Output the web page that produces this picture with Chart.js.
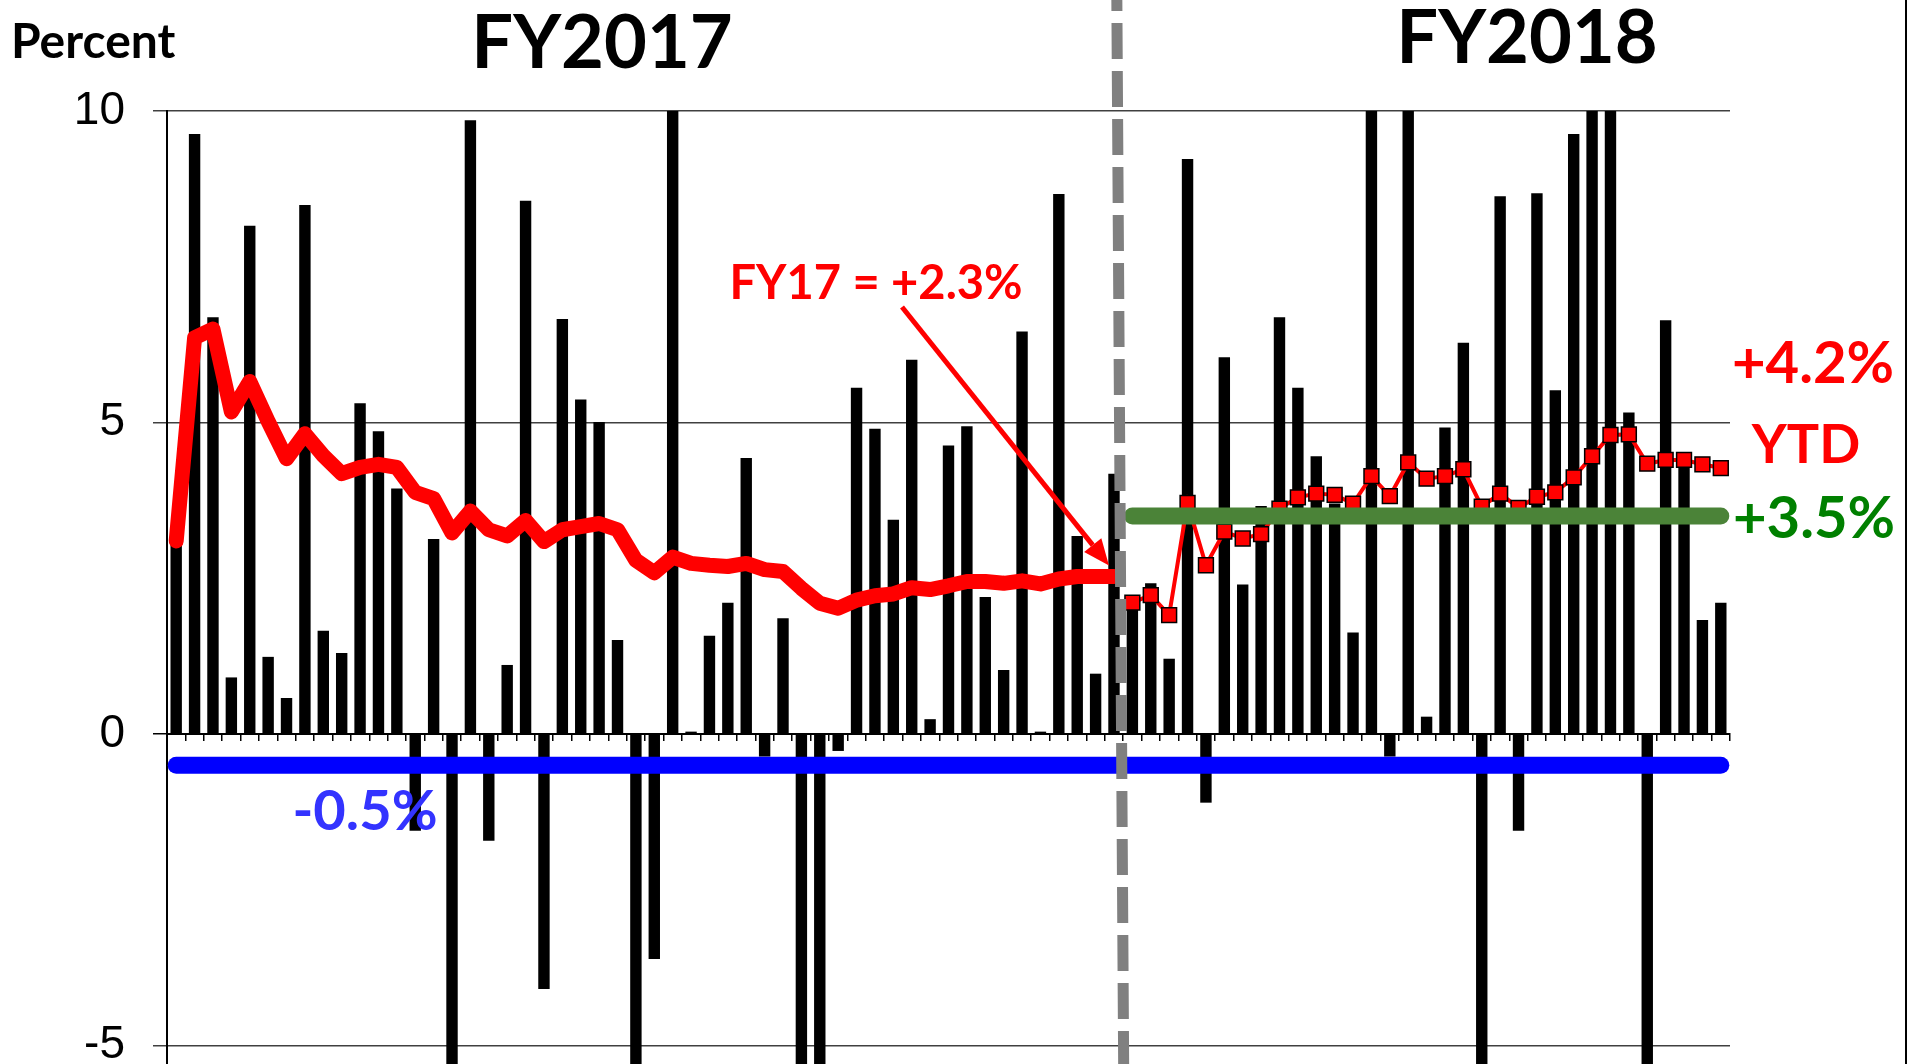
<!DOCTYPE html>
<html>
<head>
<meta charset="utf-8">
<script src="https://cdn.jsdelivr.net/npm/chart.js@4.4.1/dist/chart.umd.min.js"></script>
<style>
  html, body { margin: 0; padding: 0; background: #fff; overflow: hidden; }
  #wrap { width: 1916px; height: 1064px; overflow: hidden; position: relative; }
  canvas { display: block; }
</style>
</head>
<body>
<div id="wrap"><canvas id="chart" width="1916" height="1120"></canvas></div>
<script>
// weeks of each fiscal year (labels are not shown)
const fy17Weeks = Array.from({ length: 52 }, (_, i) => 'FY17 W' + (i + 1));
const fy18Weeks = Array.from({ length: 33 }, (_, i) => 'FY18 W' + (i + 1));
const weeks = fy17Weeks.concat(fy18Weeks);

// weekly change, percent (bars); bars past the axis ends are cut off
const weeklyChange = [
  3.1, 9.63, 6.69, 0.91, 8.16, 1.24, 0.58, 8.49, 1.66, 1.30,
  5.31, 4.86, 3.94, -1.55, 3.13, -6, 9.85, -1.71, 1.11, 8.56,
  -4.09, 6.66, 5.37, 5.01, 1.51, -6, -3.61, 11, 0.04, 1.58,
  2.11, 4.43, -0.36, 1.86, -6, -6, -0.27, 5.56, 4.90, 3.44,
  6.01, 0.24, 4.63, 4.94, 2.2, 1.03, 6.46, 0.04, 8.67, 3.18,
  0.97, 4.18,
  2.1, 2.42, 1.21, 9.23, -1.10, 6.05, 2.40, 3.66, 6.69, 5.56,
  4.46, 3.7, 1.63, 11, -0.36, 11, 0.28, 4.92, 6.28, -6,
  8.63, -1.55, 8.68, 5.52, 9.63, 11, 11, 5.16, -6, 6.64,
  4.3, 1.83, 2.11
];

// year-to-date change, percent
const fy17Ytd = [
  3.1, 6.36, 6.5, 5.17, 5.66, 5.02, 4.42, 4.82, 4.47, 4.18,
  4.28, 4.33, 4.28, 3.88, 3.78, 3.23, 3.58, 3.28, 3.18, 3.43,
  3.09, 3.28, 3.33, 3.38, 3.28, 2.79, 2.59, 2.84, 2.74, 2.71,
  2.69, 2.74, 2.64, 2.61, 2.34, 2.10, 2.02, 2.15, 2.22, 2.25,
  2.35, 2.32, 2.38, 2.45, 2.45, 2.42, 2.46, 2.41, 2.49, 2.53,
  2.53, 2.53
];
const fy18Ytd = [
  2.11, 2.23, 1.91, 3.71, 2.71, 3.25, 3.14, 3.21, 3.62, 3.80,
  3.86, 3.84, 3.70, 4.14, 3.82, 4.36, 4.10, 4.14, 4.25, 3.65,
  3.86, 3.63, 3.81, 3.88, 4.12, 4.46, 4.80, 4.81, 4.34, 4.40,
  4.40, 4.33, 4.27
];

// reference levels
const fy18Level = 3.5;
const longLevel = -0.5;

const yTicks = [10, 5, 0, -5];

const BOLD = 'Lato, "Open Sans", sans-serif';

function label(ctx, s, x, y, size, color, align) {
  ctx.font = 'bold ' + size + 'px ' + BOLD;
  ctx.fillStyle = color;
  ctx.textAlign = align || 'center';
  ctx.textBaseline = 'alphabetic';
  ctx.fillText(s, x, y);
}

const notes = {
  id: 'notes',
  afterDraw(chart) {
    const ctx = chart.ctx;
    const x = chart.scales.x, y = chart.scales.y;
    ctx.save();

    label(ctx, 'Percent', 11, 58, 48, '#000', 'left');
    label(ctx, 'FY2017', 602, 68, 74, '#000');
    label(ctx, 'FY2018', 1527, 63, 74, '#000');
    label(ctx, 'FY17 = +2.3%', 876, 299, 47, '#ff0000');
    label(ctx, '+4.2%', 1813, 383, 58, '#ff0000');
    label(ctx, 'YTD', 1806, 463, 54, '#ff0000');
    label(ctx, '+3.5%', 1814, 538, 58, '#008000');
    label(ctx, '-0.5%', 365, 830, 56, '#3333ff');

    // arrow to the end of the FY17 line
    const tipX = x.getPixelForValue(51) - 5;
    const tipY = y.getPixelForValue(fy17Ytd[51]) - 11;
    const fromX = 902, fromY = 307;
    const ang = Math.atan2(tipY - fromY, tipX - fromX);
    const head = 26, half = 11;
    ctx.strokeStyle = '#ff0000';
    ctx.lineWidth = 5;
    ctx.beginPath();
    ctx.moveTo(fromX, fromY);
    ctx.lineTo(tipX - Math.cos(ang) * head, tipY - Math.sin(ang) * head);
    ctx.stroke();
    ctx.fillStyle = '#ff0000';
    ctx.beginPath();
    ctx.moveTo(tipX, tipY);
    ctx.lineTo(tipX - Math.cos(ang) * head - Math.sin(ang) * half, tipY - Math.sin(ang) * head + Math.cos(ang) * half);
    ctx.lineTo(tipX - Math.cos(ang) * head + Math.sin(ang) * half, tipY - Math.sin(ang) * head - Math.cos(ang) * half);
    ctx.closePath();
    ctx.fill();

    // frame line at the right
    ctx.strokeStyle = '#000';
    ctx.lineWidth = 2;
    ctx.setLineDash([]);
    ctx.beginPath();
    ctx.moveTo(1906, 0);
    ctx.lineTo(1906, chart.height);
    ctx.stroke();

    // dashed divider between the fiscal years
    const split = (x.getPixelForValue(51) + x.getPixelForValue(52)) / 2;
    ctx.strokeStyle = '#808080';
    ctx.lineWidth = 11;
    ctx.setLineDash([36, 12]);
    ctx.beginPath();
    ctx.moveTo(split - 6.5, -25);
    ctx.lineTo(split + 0.7, 1100);
    ctx.stroke();
    ctx.restore();
  }
};

new Chart(document.getElementById('chart'), {
  type: 'bar',
  data: {
    labels: weeks,
    datasets: [
      {
        type: 'line', label: 'long-run',
        data: [{ x: weeks[0], y: longLevel }, { x: weeks[weeks.length - 1], y: longLevel }],
        borderColor: '#0000ff', borderWidth: 17, borderCapStyle: 'round',
        pointRadius: 0, order: 1
      },
      {
        type: 'line', label: 'FY18 level',
        data: [{ x: fy18Weeks[0], y: fy18Level }, { x: fy18Weeks[fy18Weeks.length - 1], y: fy18Level }],
        borderColor: '#4b8338', borderWidth: 17, borderCapStyle: 'round',
        pointRadius: 0, order: 2
      },
      {
        type: 'line', label: 'FY17 YTD',
        data: fy17Ytd.concat(fy18Weeks.map(() => null)),
        borderColor: '#ff0000', borderWidth: 15, borderCapStyle: 'round', borderJoinStyle: 'round',
        pointRadius: 0, tension: 0, order: 3
      },
      {
        type: 'line', label: 'FY18 YTD',
        data: fy17Weeks.map(() => null).concat(fy18Ytd),
        borderColor: '#ff0000', borderWidth: 4, tension: 0,
        pointStyle: 'rect', pointRadius: 10.5,
        pointBackgroundColor: '#ff0000', pointBorderColor: '#000', pointBorderWidth: 1.5,
        order: 4
      },
      {
        label: 'Weekly',
        data: weeklyChange,
        backgroundColor: '#000',
        barPercentage: 0.62, categoryPercentage: 1,
        order: 5
      }
    ]
  },
  options: {
    responsive: false,
    animation: false,
    devicePixelRatio: 1,
    layout: { padding: { top: 111, right: 186, bottom: 7, left: 0 } },
    plugins: { legend: { display: false }, tooltip: { enabled: false } },
    scales: {
      x: {
        type: 'category',
        position: { y: 0 },
        offset: true,
        grid: { offset: true, drawOnChartArea: false, drawTicks: true, tickLength: 6, color: '#000', lineWidth: 1.5 },
        border: { display: true, color: '#000', width: 2 },
        ticks: { display: false },
        afterFit(s) { s.height = 0; s.paddingLeft = 0; s.paddingRight = 0; }
      },
      y: {
        min: -6,
        max: 10,
        afterBuildTicks(s) { s.ticks = yTicks.map(v => ({ value: v })); },
        afterFit(s) { s.width = 167; s.paddingTop = 0; s.paddingBottom = 0; },
        grid: {
          color: c => (c.tick && c.tick.value === 0 ? '#000' : '#404040'),
          lineWidth: 1.5, tickLength: 14, drawTicks: true
        },
        border: { color: '#000', width: 2 },
        ticks: {
          padding: 28, color: '#000',
          font: { family: '"Liberation Sans", Arial, sans-serif', size: 46 }
        }
      }
    }
  },
  plugins: [notes]
});
</script>
</body>
</html>
